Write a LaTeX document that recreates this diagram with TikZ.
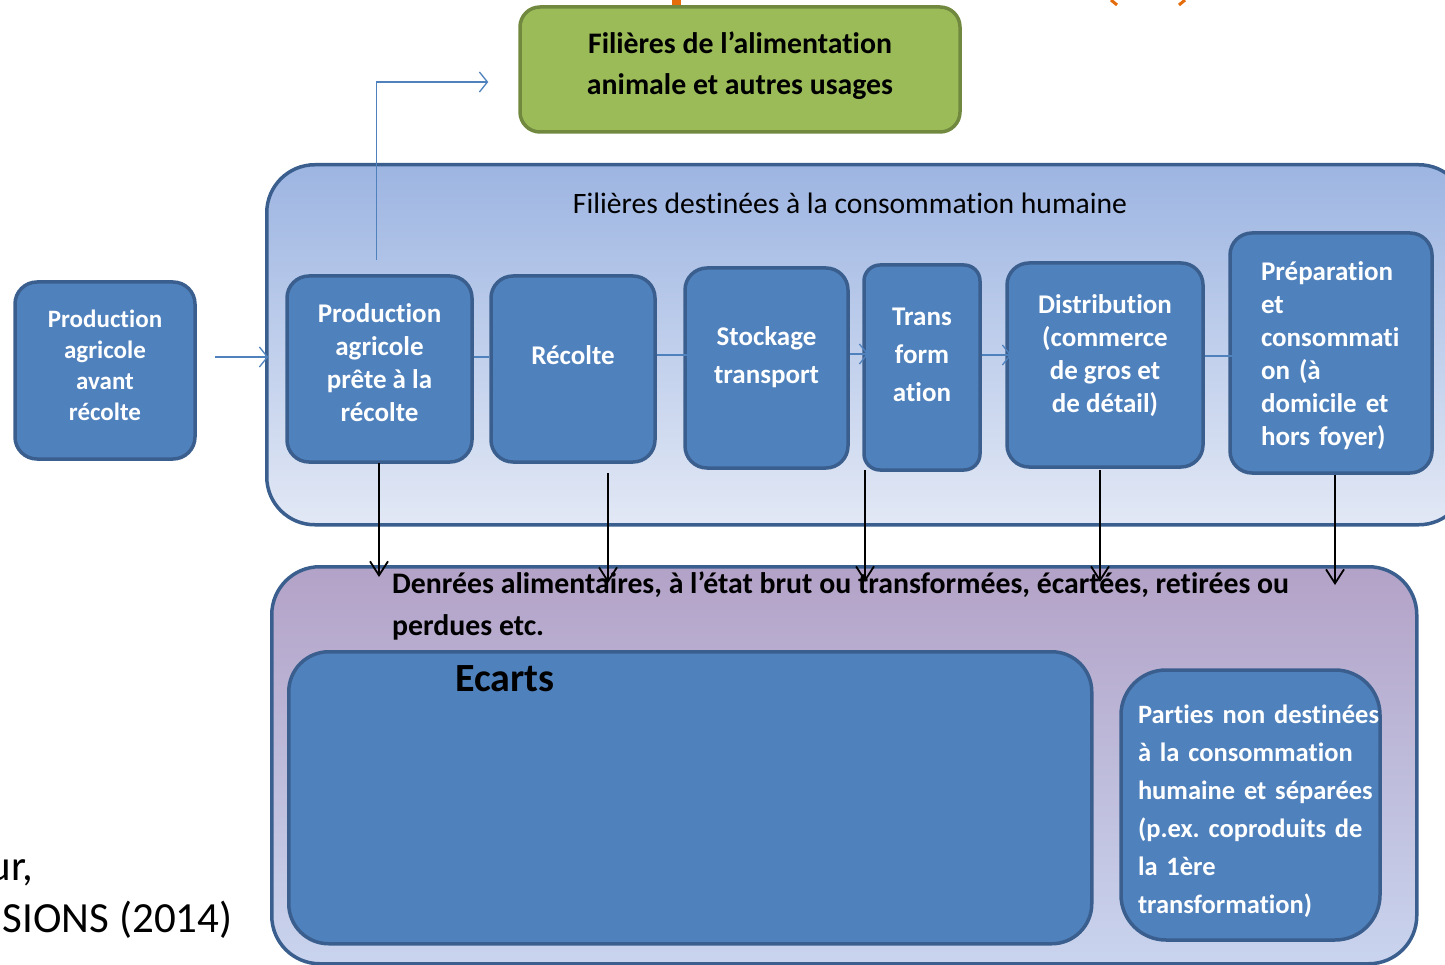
\documentclass[tikz,border=0pt]{standalone}
\usepackage{fontspec}
\setmainfont{Carlito}[Ligatures=CommonOff]
\usetikzlibrary{arrows.meta,calc}
\definecolor{blkfill}{HTML}{4F81BD}
\definecolor{blkline}{HTML}{3A5F8E}
\definecolor{grfill}{HTML}{9BBB59}
\definecolor{grline}{HTML}{71893F}
\definecolor{humtop}{HTML}{9DB5E2}
\definecolor{humbot}{HTML}{E2E8F5}
\definecolor{lostop}{HTML}{B3A2C7}
\definecolor{losbot}{HTML}{C9D4EE}
\definecolor{orng}{HTML}{E46C0A}
\frenchspacing

\begin{document}
\begin{tikzpicture}[x=1pt,y=-1pt,
      blkbox/.style={draw=blkline,fill=blkfill,line width=3.5pt,rounded corners=22pt,inner sep=0pt},
      blktxt/.style={text=white,align=center,inner sep=0pt,font=\bfseries\fontsize{27}{33}\selectfont},
      contbox/.style={draw=blkline,line width=3.5pt,rounded corners=48pt,inner sep=0pt},
      bl/.style={blkfill,line width=1.3pt,-{Straight Barb[length=8pt,width=20pt]}},
      dn/.style={black,line width=1.8pt,-{Straight Barb[length=14pt,width=18pt]}}]
  \clip(0,0)rectangle(1445,965);
  \useasboundingbox(0,0)rectangle(1445,965);
  % bits of the slide that are cut off
  \fill[orng](672,-2)rectangle(681,6);
  \draw[orng,line width=3pt](1111,0)--(1117,5)(1185,0)--(1179,5);
  \node[anchor=base east,font=\fontsize{43}{50}\selectfont](src1) at (37,880){ur,};
  \node[anchor=base east,font=\fontsize{43}{50}\selectfont](src2) at (236,932){SIONS (2014)};
  % containers
  \node[contbox,top color=humtop,bottom color=humbot,minimum width=1200,minimum height=360,
    anchor=north west](hum) at (265,163){};
  \node[font=\fontsize{29.6}{30}\selectfont](humtitle) at (850,203){Filières destinées à la consommation humaine};
  \node[contbox,top color=lostop,bottom color=losbot,minimum width=1145,minimum height=397,
    anchor=north west](loss) at (270,565){};
  \node[draw=grline,fill=grfill,line width=3.5pt,rounded corners=20pt,minimum width=440,
    minimum height=125](feed) at (740,69.5){};
  \node[align=center,font=\bfseries\fontsize{29.8}{41}\selectfont](feedtxt) at (740,65.5)
    {Filières de l’alimentation\\animale et autres usages};
  % chain
  \node[blkbox,minimum width=180,minimum height=177](early) at (105,370.5){};
  \node[blktxt,font=\bfseries\fontsize{25}{31}\selectfont](earlytxt) at (105,365){Production\\agricole\\avant\\récolte};
  \node[blkbox,minimum width=185,minimum height=186](prod) at (379.5,369){};
  \node[blktxt](prodtxt) at (379.5,363){Production\\agricole\\prête à la\\récolte};
  \node[blkbox,minimum width=164,minimum height=186](rec) at (573,369){};
  \node[blktxt](rectxt) at (573,355){Récolte};
  \node[blkbox,minimum width=163,minimum height=200](stock) at (766.5,368){};
  \node[blktxt,font=\bfseries\fontsize{27}{38}\selectfont](stocktxt) at (766.5,357){Stockage\\transport};
  \node[blkbox,minimum width=116,minimum height=205,rounded corners=16pt](trans) at (922,367.5){};
  \node[blktxt,font=\bfseries\fontsize{27}{38}\selectfont](transtxt) at (922,354.5){Trans\\form\\ation};
  \node[blkbox,minimum width=196,minimum height=204](dist) at (1105,365){};
  \node[blktxt](disttxt) at (1105,355.5){Distribution\\(commerce\\de gros et\\de détail)};
  \node[blkbox,minimum width=202,minimum height=240](prep) at (1331,353){};
  \node[blktxt,align=left,text width=150](preptxt) at (1336,355.5)
    {Préparation\\et\\consommati\\on (à\\domicile et\\hors foyer)};
  % losses
  \node[anchor=north west,align=left,inner sep=0pt,font=\bfseries\fontsize{29.8}{42}\selectfont](denr)
    at (392,571.5){Denrées alimentaires, à l’état brut ou transformées, écartées, retirées ou\\perdues etc.};
  \node[blkbox,minimum width=803,minimum height=292,rounded corners=40pt,anchor=north west](ecarts)
    at (287,650){};
  \node[font=\bfseries\fontsize{40}{42}\selectfont](ecartstxt) at (505,679){Ecarts};
  \node[blkbox,minimum width=259,minimum height=270,rounded corners=45pt](parts) at (1250.5,805){};
  \node[blktxt,align=left,text width=245,font=\bfseries\fontsize{26.5}{38}\selectfont](partstxt)
    at (1260.5,811){Parties non destinées\\à la consommation\\humaine et séparées\\(p.ex. coproduits de\\la 1ère\\transformation)};
  % arrows
  \draw[bl,shorten <=18pt,shorten >=17pt](early.east |- 0,357)--(prod.west |- 0,357);
  \draw[blkfill,line width=1.3pt](prod.east |- 0,357)--(rec.west |- 0,357);
  \draw[bl,shorten >=-25pt](rec.east |- 0,355)--(stock.west |- 0,355);
  \draw[bl,shorten >=-6pt](stock.east |- 0,354)--(trans.west |- 0,354);
  \draw[bl,shorten >=-6pt](trans.east |- 0,355)--(dist.west |- 0,355);
  \draw[bl,shorten >=-16pt](dist.east |- 0,356)--(prep.west |- 0,356);
  \draw[bl]([xshift=-3pt,yshift=14pt]prod.north)|-([xshift=-30pt,yshift=-12.5pt]feed.west);
  \foreach \i/\x/\a/\b in {1/379/463/577,2/608/473/583,3/865/470/582,4/1100/470/582,5/1335/475/585}{
    \coordinate(t\i) at (\x,\a);
    \coordinate(b\i) at (\x,\b);
    \draw[dn](t\i)--(b\i);}
\end{tikzpicture}
\end{document}
